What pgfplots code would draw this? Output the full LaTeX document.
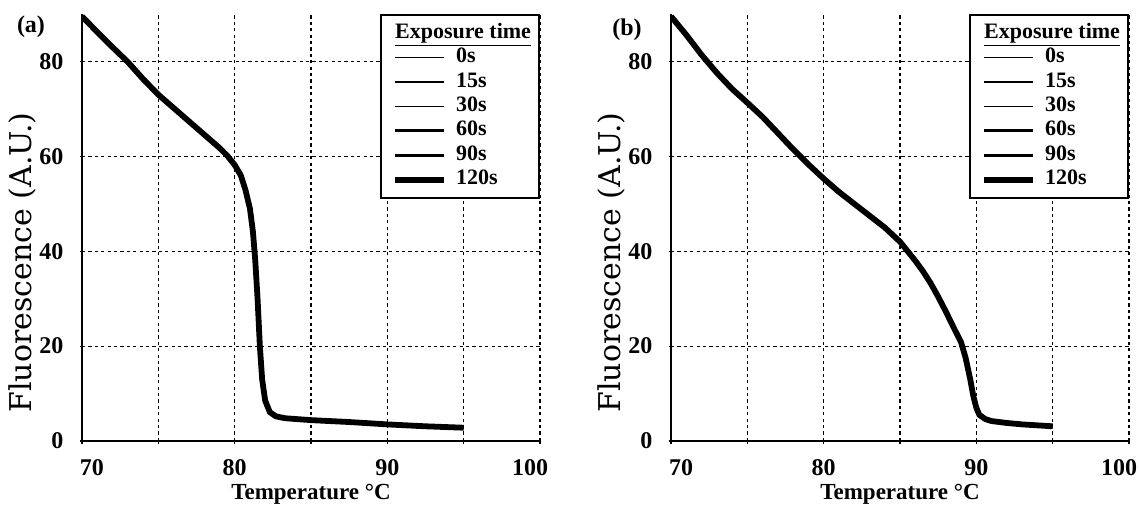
\documentclass[border=0pt]{standalone}
\usepackage{fontspec}
\setmainfont{Liberation Serif}
\newfontfamily\ylabfont{DejaVu Serif}
\usepackage{pgfplots}
\pgfplotsset{compat=1.18}
\usepackage{pgfplotstable}

\pgfplotstableread{
T F
70 89.5
71 86.2
72 83.0
73 79.9
74 76.3
75 73.0
76 70.2
77 67.4
78 64.6
79 61.8
79.5 60.2
80 58.2
80.4 56.0
80.7 53.0
81 49.0
81.2 44.0
81.35 38.0
81.5 30.0
81.65 20.0
81.8 13.0
82 8.5
82.3 6.1
82.7 5.2
83.3 4.8
85 4.4
87.5 4.0
90 3.5
92.5 3.1
95 2.8
}\dataA

\pgfplotstableread{
T F
70 89.5
71 85.6
72 81.4
73 77.6
74 74.2
75 71.3
76 68.3
77 64.9
78 61.5
79 58.3
80 55.3
81 52.5
82 50.0
83 47.5
84 45.0
85 42.0
85.5 40.0
86 38.0
86.5 35.8
87 33.3
87.5 30.4
88 27.3
88.5 24.0
89 20.8
89.3 17.5
89.6 13.0
89.8 9.5
90 7.0
90.2 5.5
90.6 4.6
91 4.2
92 3.8
93 3.5
94 3.3
95 3.1
}\dataB

\pgfplotsset{
  meltstyle/.style={
    scale only axis, width=229pt, height=213.5pt,
    xmin=70, xmax=100, ymin=0, ymax=90,
    axis x line=bottom, axis y line=left,
    axis line style={-, line width=1pt, black},
    xtick={70,80,90,100}, xticklabels={\hspace*{10pt}70,80,90,100\hspace*{10pt}},
    minor xtick={75,85,95},
    ytick={0,20,40,60,80},
    grid=both,
    major grid style={black, line width=0.6pt, dash pattern=on 1.6pt off 1.6pt},
    minor grid style={black, line width=0.6pt, dash pattern=on 1.6pt off 1.6pt},
    tick style={black, line width=0.6pt},
    major tick length=2.5pt, minor tick length=2.5pt,
    /pgf/number format/assume math mode=true,
    ticklabel style={font=\fontsize{12}{14}\selectfont\bfseries},
    xticklabel style={yshift=-4.5pt},
    yticklabel style={xshift=-4.5pt},
    xlabel={Temperature °C},
    ylabel={Fluorescence (A.U.)},
    every axis x label/.style={at={(axis description cs:0.5,0)}, anchor=north, yshift=-18pt,
      font=\fontsize{11.5}{13}\selectfont\bfseries},
    every axis y label/.style={at={(axis description cs:-0.131,0.418)}, anchor=center, rotate=90,
      font=\fontsize{15}{17}\ylabfont},
    legend image code/.code={\path (0pt,0pt); \draw[#1] (2.5pt,0pt) -- (27pt,0pt);},
    legend cell align=left,
    legend style={at={(1,1)}, anchor=north east, draw=black, line width=1pt, fill=white,
      inner sep=3pt, row sep=0pt, column sep=3.5pt,
      font=\fontsize{11}{13}\selectfont\bfseries,
      nodes={inner sep=1pt, text height=7.6pt, text depth=2.6pt}},
  }
}

\begin{document}
\begin{tikzpicture}
\useasboundingbox (-41pt,-31.5pt) rectangle (528.5pt,220.5pt);
\begin{axis}[meltstyle, name=a, at={(0pt,0pt)}]
  \addlegendimage{empty legend}
  \addlegendentry{\hspace*{-30.5pt}\underline{Exposure time}}
  \addplot[black, line width=0.8pt, no marks] table[x=T,y=F] {\dataA};
  \addlegendentry{0s}
  \addplot[black, line width=0.6pt, no marks] table[x=T,y=F] {\dataA};
  \addlegendentry{15s}
  \addplot[black, line width=0.8pt, no marks] table[x=T,y=F] {\dataA};
  \addlegendentry{30s}
  \addplot[black, line width=1.5pt, no marks] table[x=T,y=F] {\dataA};
  \addlegendentry{60s}
  \addplot[black, line width=1.7pt, no marks] table[x=T,y=F] {\dataA};
  \addlegendentry{90s}
  \addplot[black, line width=2.9pt, no marks] table[x=T,y=F] {\dataA};
  \addlegendentry{120s}
\end{axis}
\node[font=\fontsize{12}{14}\selectfont\bfseries] at ([xshift=-25.5pt,yshift=-6.5pt]a.north west) {(a)};

\begin{axis}[meltstyle, name=b, at={(294.5pt,0pt)}]
  \addlegendimage{empty legend}
  \addlegendentry{\hspace*{-30.5pt}\underline{Exposure time}}
  \addplot[black, line width=0.8pt, no marks] table[x=T,y=F] {\dataB};
  \addlegendentry{0s}
  \addplot[black, line width=0.6pt, no marks] table[x=T,y=F] {\dataB};
  \addlegendentry{15s}
  \addplot[black, line width=0.8pt, no marks] table[x=T,y=F] {\dataB};
  \addlegendentry{30s}
  \addplot[black, line width=1.5pt, no marks] table[x=T,y=F] {\dataB};
  \addlegendentry{60s}
  \addplot[black, line width=1.7pt, no marks] table[x=T,y=F] {\dataB};
  \addlegendentry{90s}
  \addplot[black, line width=2.9pt, no marks] table[x=T,y=F] {\dataB};
  \addlegendentry{120s}
\end{axis}
\node[font=\fontsize{12}{14}\selectfont\bfseries] at ([xshift=-22pt,yshift=-8pt]b.north west) {(b)};
\end{tikzpicture}
\end{document}
